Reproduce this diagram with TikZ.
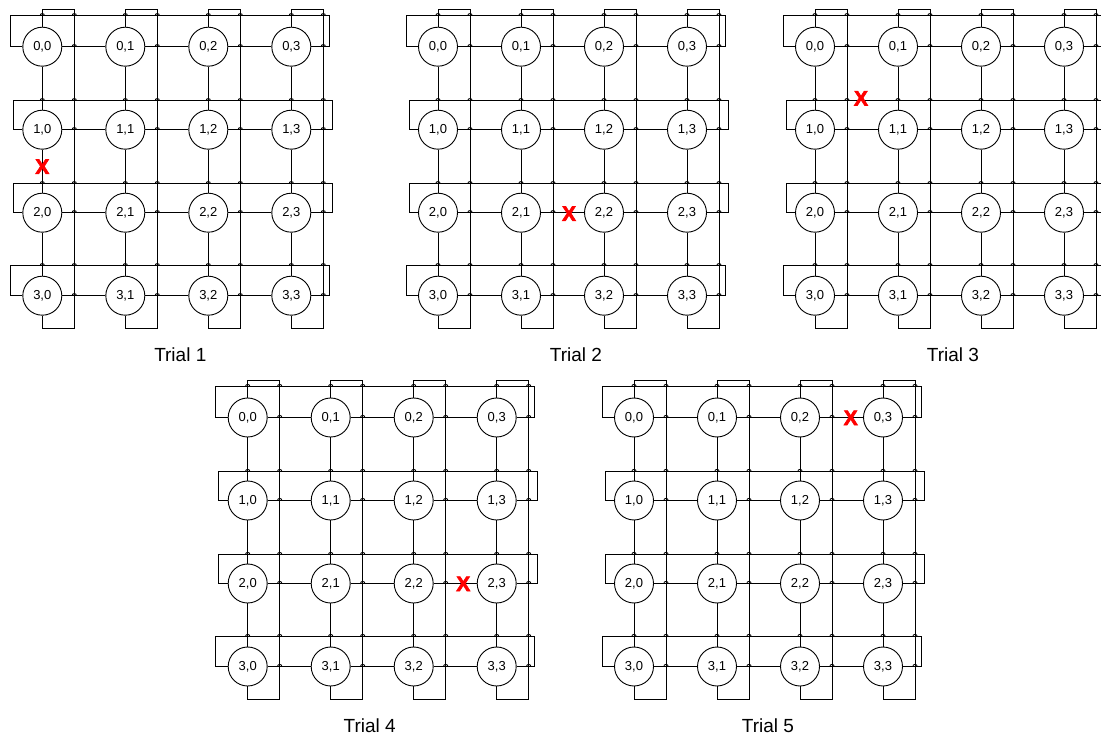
\documentclass[tikz,border=0pt]{standalone}
\usepackage{fontspec}
\setmainfont{Liberation Sans}
\newfontfamily\heavyfont[FakeBold=3]{Liberation Sans Bold}
\usepackage{tikz}

\newcommand{\linehop}[2]{\draw (#1-2.2,#2) .. controls (#1-2.2,#2-2.8) and (#1+2.2,#2-2.8) .. (#1+2.2,#2);}

\begin{document}
\begin{tikzpicture}[x=1pt, y=-1pt, line width=0.9pt,
        router/.style={circle, draw, fill=white, inner sep=0pt, minimum size=39pt,
            font=\fontsize{13}{13}\selectfont},
        fault/.style={text=red, inner sep=0pt, font=\heavyfont\fontsize{21}{21}\selectfont},
        caption/.style={anchor=base, inner sep=0pt, font=\fontsize{19}{19}\selectfont}]
    \useasboundingbox (0,0) rectangle (1101,738);

    \foreach \p/\ox/\oy/\fx/\fy/\tx in {1/42.3/46.7/0/120/138, 2/438/46.7/131/167/138,
            3/815/46.7/46/51.6/138, 4/247.7/417.5/215.6/166.3/122, 5/634/417.5/216.7/0.3/134}{
        \begin{scope}[shift={(\ox,\oy)}]
            % routers
            \foreach \r in {0,...,3}
                \foreach \c in {0,...,3}
                    \node[router] (t\p-\r\c) at (83*\c,83*\r) {\r,\c};

            % mesh links
            \foreach \r in {0,...,3}
                \foreach \c/\n in {0/1, 1/2, 2/3}{
                    \draw (t\p-\r\c) -- (t\p-\r\n);
                    \draw (t\p-\c\r) -- (t\p-\n\r);
                }

            % wraparound links, rows
            \foreach \r/\dx/\up in {0/0/31, 1/3/29, 2/3/29, 3/0/30}{
                \draw (t\p-\r0.west) -- ++(-12+\dx,0) -- ++(0,-\up) -- ++(319,0)
                    -- ++(0,\up) -- (t\p-\r3.east);
                \foreach \c in {0,...,3}{
                    \linehop{83*\c+32}{83*\r}
                    \linehop{83*\c}{83*\r-\up}
                    \linehop{83*\c+32}{83*\r-\up}
                }
            }

            % wraparound links, columns
            \foreach \c in {0,...,3}
                \draw (t\p-0\c.north) -- ++(0,-17) -- ++(32,0) -- ++(0,319)
                    -- ++(-32,0) -- (t\p-3\c.south);

            \node[fault] (x\p) at (\fx,\fy) {X};
            \node[caption] (cap\p) at (\tx,315) {Trial \p};
        \end{scope}
    }
\end{tikzpicture}
\end{document}
